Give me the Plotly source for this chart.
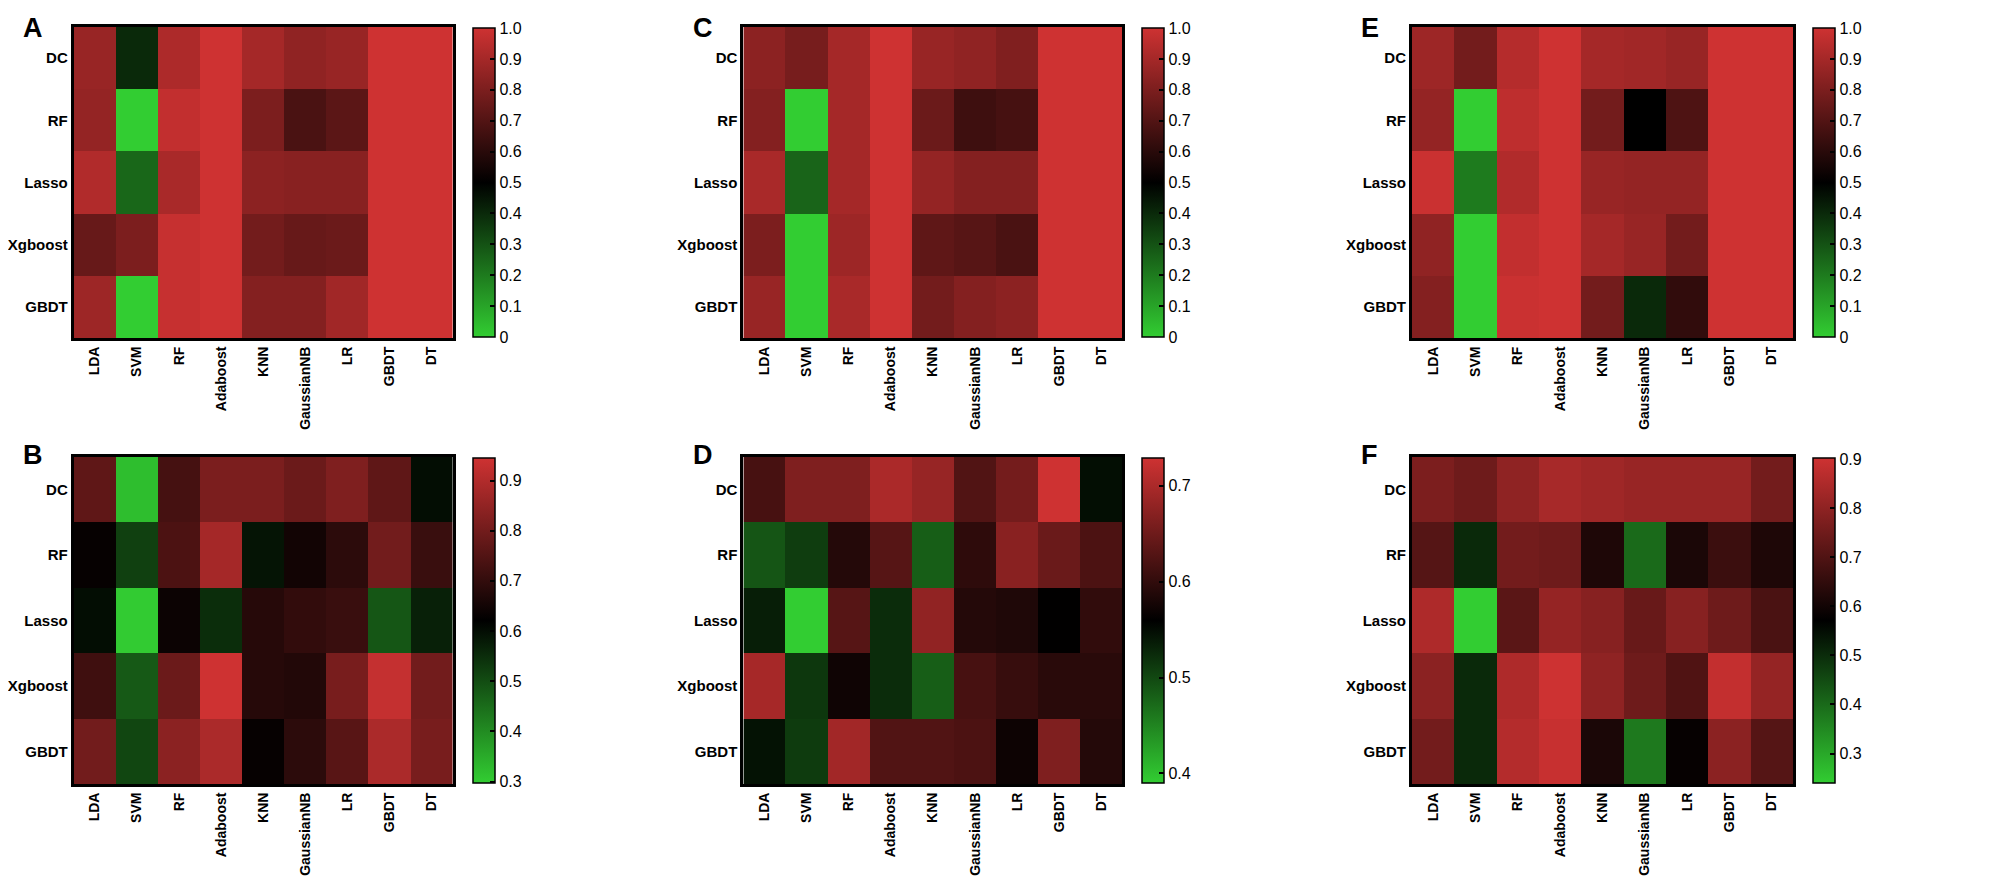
import plotly.graph_objects as go

# row / column labels shared by all six panels
features = ["DC", "RF", "Lasso", "Xgboost", "GBDT"]
models = ["LDA", "SVM", "RF", "Adaboost", "KNN", "GaussianNB", "LR", "GBDT", "DT"]

# panel A (scale 0 - 1)
values_A = [
    [0.87, 0.40, 0.92, 1.00, 0.90, 0.85, 0.87, 1.00, 1.00],
    [0.86, 0.00, 0.97, 1.00, 0.80, 0.68, 0.72, 1.00, 1.00],
    [0.93, 0.25, 0.91, 1.00, 0.84, 0.83, 0.83, 1.00, 1.00],
    [0.75, 0.80, 0.98, 1.00, 0.78, 0.75, 0.76, 1.00, 1.00],
    [0.88, 0.00, 0.98, 1.00, 0.82, 0.82, 0.89, 1.00, 1.00],
]
# panel B
values_B = [
    [0.77, 0.32, 0.73, 0.815, 0.815, 0.79, 0.82, 0.77, 0.60],
    [0.63, 0.52, 0.74, 0.88, 0.59, 0.65, 0.69, 0.80, 0.71],
    [0.60, 0.30, 0.64, 0.55, 0.68, 0.70, 0.71, 0.485, 0.57],
    [0.72, 0.48, 0.79, 0.945, 0.68, 0.675, 0.81, 0.93, 0.80],
    [0.80, 0.51, 0.84, 0.89, 0.63, 0.69, 0.76, 0.89, 0.81],
]
# panel C
values_C = [
    [0.84, 0.79, 0.90, 1.00, 0.87, 0.85, 0.81, 1.00, 1.00],
    [0.82, 0.00, 0.90, 1.00, 0.76, 0.65, 0.67, 1.00, 1.00],
    [0.91, 0.255, 0.90, 1.00, 0.86, 0.82, 0.82, 1.00, 1.00],
    [0.80, 0.00, 0.88, 1.00, 0.73, 0.71, 0.68, 1.00, 1.00],
    [0.87, 0.00, 0.91, 1.00, 0.78, 0.82, 0.84, 1.00, 1.00],
]
# panel D
values_D = [
    [0.618, 0.664, 0.664, 0.700, 0.684, 0.626, 0.655, 0.729, 0.548],
    [0.489, 0.509, 0.589, 0.630, 0.482, 0.597, 0.672, 0.647, 0.622],
    [0.535, 0.390, 0.630, 0.523, 0.679, 0.589, 0.585, 0.560, 0.600],
    [0.696, 0.514, 0.572, 0.523, 0.482, 0.618, 0.605, 0.593, 0.593],
    [0.545, 0.511, 0.693, 0.626, 0.626, 0.622, 0.570, 0.664, 0.589],
]
# panel E
values_E = [
    [0.88, 0.78, 0.94, 1.00, 0.90, 0.89, 0.87, 1.00, 1.00],
    [0.86, 0.00, 0.96, 1.00, 0.78, 0.50, 0.69, 1.00, 1.00],
    [0.99, 0.20, 0.93, 1.00, 0.87, 0.86, 0.86, 1.00, 1.00],
    [0.85, 0.00, 0.97, 1.00, 0.90, 0.87, 0.78, 1.00, 1.00],
    [0.82, 0.00, 0.99, 1.00, 0.78, 0.40, 0.62, 1.00, 1.00],
]
# panel F
values_F = [
    [0.77, 0.748, 0.80, 0.84, 0.827, 0.815, 0.815, 0.815, 0.755],
    [0.707, 0.504, 0.755, 0.748, 0.62, 0.40, 0.615, 0.666, 0.62],
    [0.85, 0.24, 0.715, 0.81, 0.788, 0.738, 0.788, 0.748, 0.69],
    [0.795, 0.505, 0.85, 0.90, 0.80, 0.748, 0.70, 0.885, 0.81],
    [0.755, 0.505, 0.86, 0.89, 0.615, 0.375, 0.58, 0.795, 0.707],
]

# colour ranges and colourbar ticks
ranges = {"A": (0, 1), "B": (0.297, 0.945), "C": (0, 1),
          "D": (0.39, 0.729), "E": (0, 1), "F": (0.24, 0.902)}
ticks_01 = [0, 0.1, 0.2, 0.3, 0.4, 0.5, 0.6, 0.7, 0.8, 0.9, 1.0]
ticktext_01 = ["0", "0.1", "0.2", "0.3", "0.4", "0.5", "0.6", "0.7", "0.8", "0.9", "1.0"]
ticks_B = [0.3, 0.4, 0.5, 0.6, 0.7, 0.8, 0.9]
ticks_D = [0.4, 0.5, 0.6, 0.7]
ticks_F = [0.3, 0.4, 0.5, 0.6, 0.7, 0.8, 0.9]

W, H = 2002, 888
scale = [[0, "rgb(50,205,50)"], [0.5, "rgb(0,0,0)"], [1, "rgb(206,50,50)"]]
font = "Liberation Sans, Arial, sans-serif"

# (letter, data, ticks, ticktext, left px, right px, top px, bottom px, cbar px)
panels = [
    ("A", values_A, ticks_01, ticktext_01, 56, 437, 19, 330, 457),
    ("B", values_B, ticks_B, [str(t) for t in ticks_B], 56, 437, 449, 776, 457),
    ("C", values_C, ticks_01, ticktext_01, 729, 1110, 19, 330, 1130),
    ("D", values_D, ticks_D, [str(t) for t in ticks_D], 729, 1110, 449, 776, 1130),
    ("E", values_E, ticks_01, ticktext_01, 1401, 1784, 19, 330, 1804),
    ("F", values_F, ticks_F, [str(t) for t in ticks_F], 1401, 1784, 449, 776, 1804),
]

fig = go.Figure()
layout = {}
annotations = []
for i, (letter, z, tv, tt, x0, x1, y0, y1, cbx) in enumerate(panels):
    n = "" if i == 0 else str(i + 1)
    zmin, zmax = ranges[letter]
    fig.add_trace(go.Heatmap(
        z=z, x=models, y=features, xaxis="x" + n, yaxis="y" + n,
        colorscale=scale, zmin=zmin, zmax=zmax,
        colorbar=dict(
            x=cbx / W, xanchor="left", xpad=0, ypad=0,
            y=1 - (y0 + y1) / 2 / H, yanchor="middle",
            lenmode="pixels", len=y1 - y0 - 2, thickness=22,
            outlinewidth=1.5, outlinecolor="black",
            tickvals=tv, ticktext=tt, ticks="inside", ticklen=5,
            tickcolor="black", tickwidth=2,
            tickfont=dict(family=font, size=16, color="black"),
        ),
    ))
    layout["xaxis" + n] = dict(
        domain=[x0 / W, x1 / W], anchor="y" + n, tickangle=-90,
        showline=True, mirror=True, linewidth=3, linecolor="black",
        ticks="", tickfont=dict(family=font, size=14, color="black", weight="bold"),
    )
    layout["yaxis" + n] = dict(
        domain=[1 - y1 / H, 1 - y0 / H], anchor="x" + n, autorange="reversed",
        showline=True, mirror=True, linewidth=3, linecolor="black",
        ticks="", tickfont=dict(family=font, size=15, color="black", weight="bold"),
    )
    annotations.append(dict(
        text=letter, x=(x0 - 53) / W, y=1 - (y0 - 16) / H if y0 < 100 else 1 - (y0 - 19) / H,
        xref="paper", yref="paper", xanchor="left", yanchor="top", showarrow=False,
        font=dict(family=font, size=27, color="black", weight="bold"),
    ))

fig.update_layout(
    width=W, height=H, margin=dict(l=0, r=0, t=0, b=0),
    paper_bgcolor="white", plot_bgcolor="white",
    annotations=annotations, **layout,
)
fig.write_html("out.html")
